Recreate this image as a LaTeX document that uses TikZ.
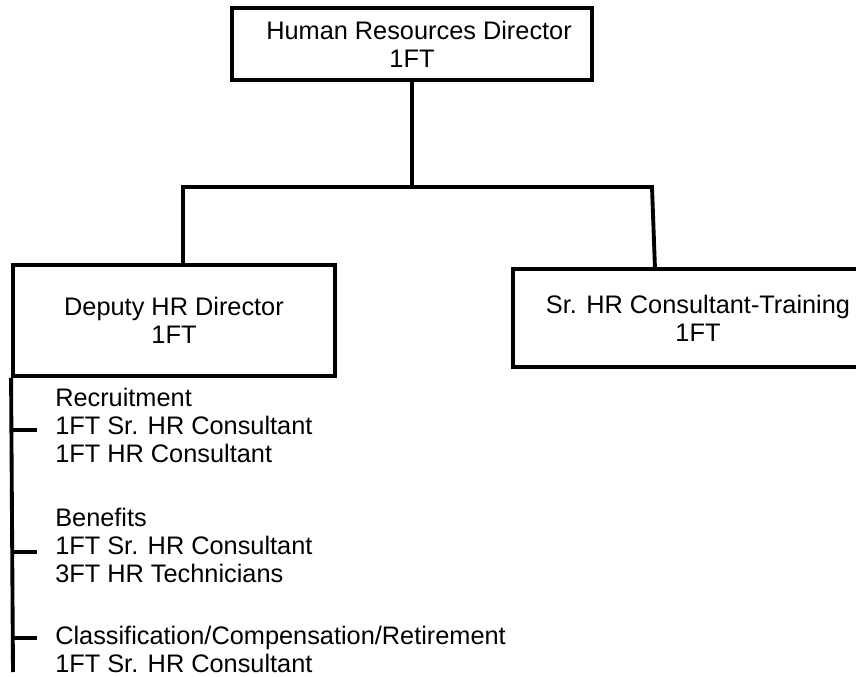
\documentclass[tikz,border=0pt]{standalone}
\usepackage{fontspec}
\setmainfont{Liberation Sans}
\usepackage{tikz}
\usetikzlibrary{positioning}
\tikzstyle{post}=[draw,line width=2.9pt,align=center,inner sep=0pt]
\tikzstyle{link}=[line width=2.9pt,line cap=rect]
\tikzstyle{unit}=[align=left,anchor=west,inner sep=0pt]

\begin{document}
\begin{tikzpicture}[x=0.75pt,y=-0.75pt,font=\fontsize{19}{21}\selectfont]
  \clip (0,0) rectangle (856,677);
  \def\bus{187}  % y of the bus line
  \def\xl{13}    % x of the list line
  \def\tk{24}    % tick length

  % BOXES (sizes in pt, 1px = 0.75pt)
  \node[post,minimum width=270pt,minimum height=54pt] (hrd) at (412,44) {~~Human Resources Director\\1FT};
  \node[post,minimum width=241.5pt,minimum height=83.25pt] (dep) at (174,320.5) {Deputy HR Director\\1FT};
  \node[post,minimum width=277.5pt,minimum height=73.5pt] (srt) at (698,318) {Sr. HR Consultant-Training\\1FT};

  % BUS
  \coordinate (busL) at (183,\bus);
  \coordinate (busR) at (652,\bus);
  \coordinate (dropR) at (655,269);
  \draw[link] (hrd.south) -- (hrd.south |- busL);
  \draw[link] (busL |- dep.north) -- (busL) -- (busR) -- (dropR);

  % LIST
  \coordinate (listE) at (\xl,672);
  \draw[link,line cap=butt] (dep.south west) -- (listE);
  \foreach \y in {430,552,638}
    \draw[link,line cap=butt] (\xl,\y) -- ++(\tk,0);
  \node[unit] (rec) at (55,425) {Recruitment\\1FT Sr. HR Consultant\\1FT HR Consultant};
  \node[unit] (ben) at (55,545) {Benefits\\1FT Sr. HR Consultant\\3FT HR Technicians};
  \node[unit] (cla) at (55,649) {Classification/Compensation/Retirement\\1FT Sr. HR Consultant};

\end{tikzpicture}
\end{document}
